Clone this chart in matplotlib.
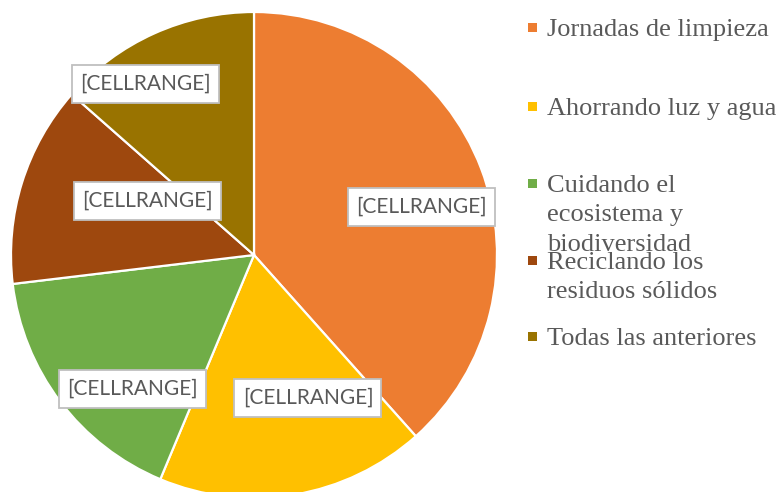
import matplotlib
matplotlib.use("Agg")
import matplotlib.pyplot as plt
from matplotlib.patches import Rectangle
from matplotlib.transforms import ScaledTranslation

categories = ["Jornadas de limpieza", "Ahorrando luz y agua",
              "Cuidando el\necosistema y\nbiodiversidad",
              "Reciclando los\nresiduos sólidos", "Todas las anteriores"]
values = [38.4, 17.9, 16.8, 13.4, 13.5]
data_labels = ["[CELLRANGE]"] * 5
colors = ["#ED7D31", "#FFC000", "#70AD47", "#9E480E", "#997300"]

W, H = 782, 492
fig = plt.figure(figsize=(W / 100, H / 100), dpi=100)
cx, cy, r = 254, 255, 243
ax = fig.add_axes([(cx - r) / W, (H - cy - r) / H, 2 * r / W, 2 * r / H])

ax.pie(values, colors=colors, startangle=90, counterclock=False, radius=1,
       wedgeprops=dict(edgecolor="white", linewidth=1.6))
ax.set_xlim(-1, 1)
ax.set_ylim(-1, 1)
ax.set_aspect("equal")
ax.axis("off")

# label positions (fraction of radius)
label_pos = [(0.689, 0.198), (0.222, -0.588), (-0.502, -0.551),
             (-0.440, 0.222), (-0.446, 0.704)]
box_w, box_h = 1.47, 0.38  # inches
for (x, y), t in zip(label_pos, data_labels):
    tr = fig.dpi_scale_trans + ScaledTranslation(x, y, ax.transData)
    ax.add_patch(Rectangle((-box_w / 2, -box_h / 2), box_w, box_h, transform=tr,
                           fc="white", ec="#BFBFBF", lw=1.3, zorder=5))
    ax.text(x, y, t, ha="center", va="center", fontsize=15, family="Lato",
            color="#595959", zorder=6)

# legend drawn manually
baselines = [36, 115, 192, 269, 345]
line_step = 29.5
for lab, col, b in zip(categories, colors, baselines):
    fig.patches.append(Rectangle((528 / W, (H - b + 4) / H), 9 / W, 9 / H,
                                 transform=fig.transFigure, fc=col, ec="none"))
    for i, line in enumerate(lab.split("\n")):
        fig.text(547 / W, (H - b - i * line_step) / H, line, ha="left",
                 va="baseline", fontsize=19, family="Liberation Serif",
                 color="#595959")

fig.savefig("out.png", dpi=100)
